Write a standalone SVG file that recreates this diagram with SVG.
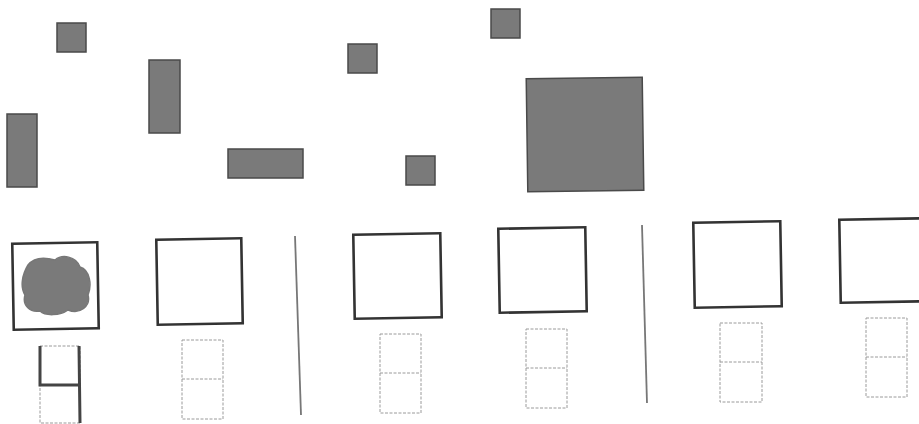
<svg xmlns="http://www.w3.org/2000/svg" width="919" height="424" viewBox="0 0 919 424">
<style>
.f{fill:#7a7a7a;stroke:#4a4a4a;stroke-width:1.5}
.b{fill:none;stroke:#333;stroke-width:2.6}
.d{fill:none;stroke:#9a9a9a;stroke-width:1;stroke-dasharray:3 1.5}
.t{fill:none;stroke:#444;stroke-width:3}
.v{stroke:#777;stroke-width:1.8}
</style>
<rect width="919" height="424" fill="#fff"/>
<g id="top">
<rect id="s1" class="f" x="57" y="23" width="29" height="29"/>
<rect id="s2" class="f" x="149" y="60" width="31" height="73"/>
<rect id="s3" class="f" x="7" y="114" width="30" height="73"/>
<rect id="s4" class="f" x="228" y="149" width="75" height="29"/>
<rect id="s5" class="f" x="348" y="44" width="29" height="29"/>
<rect id="s6" class="f" x="491" y="9" width="29" height="29"/>
<rect id="s7" class="f" x="406" y="156" width="29" height="29"/>
<rect id="s8" class="f" x="527" y="78" width="116" height="113" transform="rotate(-0.8 585 134)"/>
</g>
<g id="n1">
<rect class="b" x="13" y="243" width="85" height="86" transform="rotate(-1 55 286)"/>
<path class="f" style="stroke:#777" d="M28,265 C35,256 48,258 55,260 C62,254 76,256 80,267 C90,270 92,285 88,295 C91,306 80,315 68,310 C60,316 45,316 40,311 C30,313 22,305 25,295 C20,287 22,275 28,265 Z"/>
<rect class="d" x="40" y="346" width="40" height="77"/>
<path class="t" d="M40,346 L40,385 L79,385 M79,346 L80,423"/>
</g>
<g id="n2">
<rect class="b" x="157" y="239" width="85" height="85" transform="rotate(-1 199 281)"/>
<rect class="d" x="182" y="340" width="41" height="79"/>
<line class="d" x1="182" y1="379" x2="223" y2="379"/>
</g>
<g id="n3">
<rect class="b" x="354" y="234" width="87" height="84" transform="rotate(-1 397 276)"/>
<rect class="d" x="380" y="334" width="41" height="79"/>
<line class="d" x1="380" y1="373" x2="421" y2="373"/>
</g>
<g id="n4">
<rect class="b" x="499" y="228" width="87" height="84" transform="rotate(-1 542 270)"/>
<rect class="d" x="526" y="329" width="41" height="79"/>
<line class="d" x1="526" y1="368" x2="567" y2="368"/>
</g>
<g id="n5">
<rect class="b" x="694" y="222" width="87" height="85" transform="rotate(-1 737 264)"/>
<rect class="d" x="720" y="323" width="42" height="79"/>
<line class="d" x1="720" y1="362" x2="762" y2="362"/>
</g>
<g id="n6">
<rect class="b" x="840" y="219" width="86" height="83" transform="rotate(-1 883 260)"/>
<rect class="d" x="866" y="318" width="41" height="79"/>
<line class="d" x1="866" y1="357" x2="907" y2="357"/>
</g>
<g id="connectors">
<line class="v" x1="295" y1="236" x2="301" y2="415"/>
<line class="v" x1="642" y1="225" x2="647" y2="403"/>
</g>
</svg>
